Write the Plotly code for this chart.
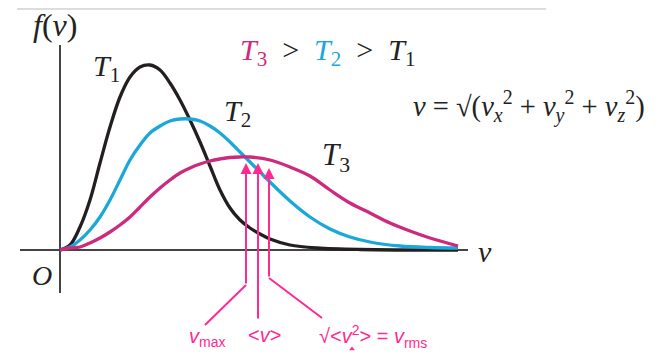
import plotly.graph_objects as go

# curves (v to the right of O, f(v) above the axis)
v_t1 = [0, 10, 20, 30, 40, 50, 60, 70, 80, 90, 100, 110, 120, 130, 140, 150, 160, 170, 180, 190, 200, 210, 230, 257, 300, 398]
f_t1 = [0, 5, 23, 50, 87, 123, 153, 173, 183, 185, 180, 167, 150, 130, 108, 84, 60, 42, 30, 22, 16, 11, 5, 2, 0.5, 0]

v_t2 = [0, 10, 20, 30, 40, 50, 60, 70, 80, 90, 100, 110, 120, 130, 140, 150, 160, 170, 180, 190, 200, 210, 230, 250, 270, 290, 310, 340, 370, 398]
f_t2 = [0, 3, 10, 20, 33, 50, 70, 90, 105, 117, 124, 129, 131, 131, 129, 124, 117, 108, 98, 88, 78, 68, 49, 33, 21, 13, 8, 4, 2.5, 2]

v_t3 = [0, 10, 20, 30, 40, 50, 60, 70, 80, 90, 100, 110, 120, 130, 140, 150, 160, 170, 180, 190, 210, 230, 250, 270, 290, 310, 330, 350, 370, 398]
f_t3 = [0, 2, 3, 7, 12, 18, 25, 33, 43, 53, 62, 70, 77, 82, 86, 89, 91, 92.5, 93, 93, 90, 83, 74, 60, 47, 37, 27, 19, 12, 4]

# characteristic speeds of T3 and where their arrows point
speed_names = ["vmax", "vmean", "vrms"]
speed_v = [186, 198, 209]
speed_tip = [87, 87, 82]
speed_kink = [-35, -70, -28]
speed_end_v = [145, 198, 262]
speed_end_f = [-75, -70, -68]

BLACK = "#231f20"
CYAN = "#1ba8d8"
MAGENTA = "#cc2a7c"
PINK = "#ff2a92"
OFF = 8  # page body margin
W, H = 656 - OFF, 353 - OFF


def px(x):
    return (x - OFF) / W


def py(y):
    return 1 - (y - OFF) / H


fig = go.Figure()

fig.add_trace(go.Scatter(x=v_t1, y=f_t1, mode="lines", line=dict(color=BLACK, width=3.3, shape="spline")))
fig.add_trace(go.Scatter(x=v_t2, y=f_t2, mode="lines", line=dict(color=CYAN, width=3.3, shape="spline")))
fig.add_trace(go.Scatter(x=v_t3, y=f_t3, mode="lines", line=dict(color=MAGENTA, width=3.3, shape="spline")))

# axes
fig.add_shape(type="line", x0=-40, x1=408, y0=0, y1=0, line=dict(color="#444", width=2), layer="below")
fig.add_shape(type="line", x0=0, x1=0, y0=-43, y1=205, line=dict(color="#444", width=2), layer="below")
fig.add_shape(type="line", xref="paper", yref="paper", x0=px(17), x1=px(546), y0=py(9), y1=py(9),
              line=dict(color="#dcdcdc", width=2))

for i in range(len(speed_names)):
    fig.add_trace(go.Scatter(x=[speed_v[i], speed_v[i], speed_end_v[i]],
                             y=[speed_kink[i], speed_kink[i], speed_end_f[i]],
                             mode="lines", line=dict(color=PINK, width=2)))
    fig.add_annotation(x=speed_v[i], y=speed_tip[i], ax=speed_v[i], ay=speed_kink[i],
                       xref="x", yref="y", axref="x", ayref="y", text="",
                       showarrow=True, arrowhead=2, arrowsize=1.1, arrowwidth=2, arrowcolor=PINK)

# little arrow tip poking in at the bottom edge
fig.add_trace(go.Scatter(x=[292], y=[-99], mode="markers",
                         marker=dict(symbol="triangle-up", size=5, color=PINK)))

serif = "Liberation Serif"
sans = "Liberation Sans"


def label(x, y, text, size, color="#222", family=serif, xanchor="left"):
    fig.add_annotation(x=px(x), y=py(y), xref="paper", yref="paper", text=text, showarrow=False,
                       xanchor=xanchor, yanchor="middle", font=dict(family=family, size=size, color=color))


label(55, 25, "<i>f</i>(<i>v</i>)", 32, xanchor="center")
label(42, 275, "<i>O</i>", 28, xanchor="center")
label(485, 251, "<i>v</i>", 30, xanchor="center")
label(91, 68, "<i>T</i><sub>1</sub>", 30)
label(222, 113, "<i>T</i><sub>2</sub>", 30)
label(320, 157, "<i>T</i><sub>3</sub>", 31)
label(238, 52,
      "<span style='color:%s'><i>T</i><sub>3</sub></span>  >  "
      "<span style='color:%s'><i>T</i><sub>2</sub></span>  >  <i>T</i><sub>1</sub>" % (MAGENTA, CYAN), 30)
label(411, 106, "<i>v</i> = √(<i>v<sub>x</sub></i><sup>2</sup> + <i>v<sub>y</sub></i><sup>2</sup>"
      " + <i>v<sub>z</sub></i><sup>2</sup>)", 28.5)

label(187, 337, "<i>v</i><sub>max</sub>", 20, PINK, sans)
label(246, 335, "&lt;<i>v</i>&gt;", 20, PINK, sans)
label(317, 336, "√&lt;<i>v</i><sup>2</sup>&gt; = <i>v</i><sub>rms</sub>", 20, PINK, sans)

fig.update_layout(
    width=W, height=H,
    margin=dict(l=0, r=0, t=0, b=0),
    paper_bgcolor="white", plot_bgcolor="white",
    showlegend=False,
    xaxis=dict(range=[-60 + OFF, 596], visible=False, fixedrange=True),
    yaxis=dict(range=[-103, 250 - OFF], visible=False, fixedrange=True),
)

fig.write_html("out.html")
